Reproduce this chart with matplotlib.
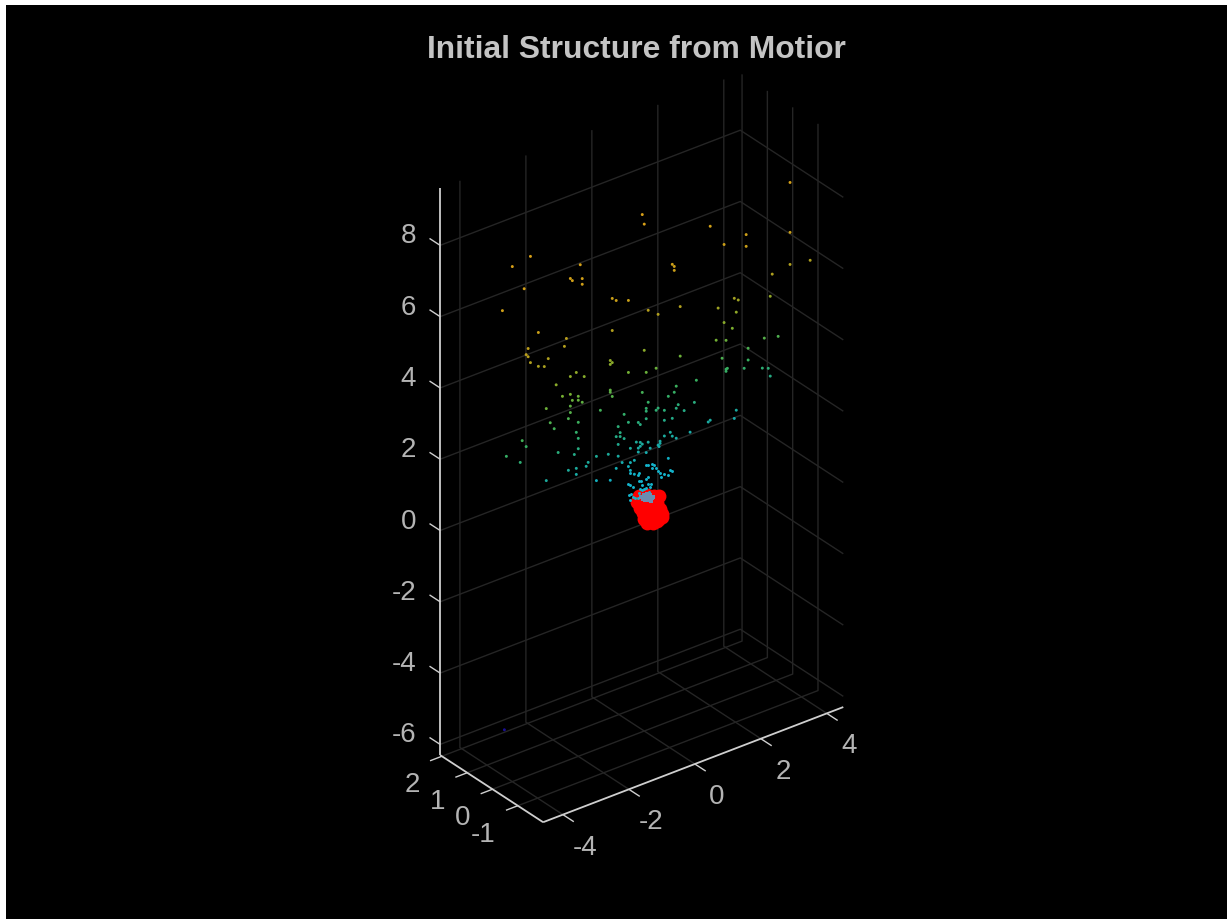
"""Initial Structure from Motion: MATLAB style point cloud redrawn in mplot3d."""

import matplotlib

matplotlib.use("Agg")

import matplotlib.pyplot as plt
import numpy as np
from matplotlib.colors import LinearSegmentedColormap
from matplotlib.patches import Rectangle
from mpl_toolkits.mplot3d import proj3d

BG = "#000000"
GRID = "#252525"
AXIS = "#cfcfcf"
TEXT = "#b4b4b4"
TITLE = "#c4c4c4"

TITLE_TEXT = "Initial Structure from Motior"

X_LIM = (-4.6, 4.5)
Y_LIM = (-2.0, 2.07)
Z_LIM = (-6.3, 9.6)

X_TICKS = [-4, -2, 0, 2, 4]
Y_TICKS = [-1, 0, 1, 2]
Z_TICKS = [-6, -4, -2, 0, 2, 4, 6, 8]

# colour against height
COLOR_Z = [-5, 0, 1, 2, 3, 4, 5, 6, 8]
COLOR_HEX = ["#1a0a90", "#0a90d0", "#10b0c8", "#1fa890", "#38b060",
             "#78b030", "#a89f20", "#c89f18", "#d8a018"]

# point cloud
cloud_x = [
    -0.06, 0.00, -3.45, -4.00, -1.94, -2.24, -2.18, -1.88, -1.88, -3.64,
    0.85, 0.91, 0.91, -4.30, -0.97, -0.85, -0.48, 0.12, 0.42, -3.21,
    -0.97, -2.36, 4.42, 2.00, 3.09, 4.42, 2.42, 3.09, 4.42, 5.03,
    3.88, 3.82, 2.73, 2.85, 1.09, 2.24, 2.79, 2.42, 2.67, 3.64,
    4.06, 2.18, 2.48, 0.00, 1.09, 3.15, 2.36, 3.15, -0.48, 0.06,
    0.36, 2.48, 2.52, 2.48, 3.03, 3.58, 3.76, 3.82, 1.58, 0.97,
    -0.06, 0.91, 0.73, 0.12, 1.03, 1.52, 0.06, 0.06, 0.42, 0.36,
    0.61, 0.97, 1.21, 2.79, 0.06, 0.61, 0.85, 2.00, 1.94, 2.73,
    -0.18, -0.12, 0.79, 1.39, 0.61, 0.85, 0.97, -0.24, -0.12, -0.06,
    0.12, -0.12, -0.18, -0.42, 0.48, 0.48, 0.42, 0.45, 0.18, -0.18,
    0.06, 0.73, -3.52, -2.42, -3.58, -3.52, -2.91, -3.45, -3.21, -3.03,
    -1.03, -0.97, -1.03, -2.06, -2.24, -1.82, -2.67, -1.03, -1.03, -2.24,
    -2.48, -2.00, -0.97, -2.18, -2.00, -1.88, -2.24, -2.97, -1.33, -2.24,
    -0.61, -2.30, -2.85, -2.00, -0.48, -0.79, -2.73, -2.06, -0.73, -0.73,
    -0.85, -2.00, -0.61, -3.70, -3.58, -0.79, -2.00, -2.61, -2.12, -1.09,
    -1.45, -0.79, -4.18, -3.76, -1.70, -1.76, -0.67, -0.42, -0.30, -0.48,
    -0.85, -2.30, -2.06, -0.42, -0.30, -2.06, -2.97, -1.45, -1.03,
    -4.24,
]
cloud_z = [
    8.21, 7.92, 8.24, 8.15, 7.47, 7.19, 7.11, 7.06, 6.90, 7.40,
    6.49, 6.41, 6.30, 7.02, 6.18, 6.08, 5.95, 5.46, 5.24, 6.02,
    5.28, 5.55, 7.52, 7.15, 6.53, 6.12, 6.49, 6.20, 5.22, 5.12,
    5.14, 4.54, 4.87, 4.78, 5.22, 4.77, 4.46, 4.30, 4.05, 3.43,
    3.33, 3.89, 3.78, 4.38, 3.83, 3.32, 3.32, 2.99, 3.93, 3.74,
    3.75, 2.97, 2.98, 2.91, 2.80, 2.61, 2.54, 2.30, 2.98, 3.03,
    3.22, 2.88, 2.83, 2.88, 2.49, 2.38, 2.73, 2.65, 2.61, 2.57,
    2.48, 2.41, 2.26, 1.71, 2.44, 2.20, 2.17, 1.71, 1.68, 1.50,
    2.42, 2.34, 1.80, 1.59, 1.76, 1.67, 1.57, 1.89, 1.84, 1.77,
    1.76, 1.73, 1.70, 1.78, 1.66, 1.60, 1.57, 1.52, 1.57, 1.59,
    1.49, 1.09, 5.68, 5.35, 5.53, 5.45, 5.18, 5.26, 5.07, 5.00,
    4.46, 4.38, 4.35, 4.49, 4.44, 4.29, 4.36, 3.63, 3.57, 3.94,
    3.97, 3.80, 3.43, 3.75, 3.69, 3.59, 3.61, 3.80, 3.17, 3.43,
    2.80, 3.28, 3.36, 3.07, 2.53, 2.52, 3.15, 2.81, 2.33, 2.22,
    2.26, 2.62, 2.12, 3.16, 2.95, 2.02, 2.33, 2.44, 2.21, 1.85,
    1.92, 1.69, 2.89, 2.57, 1.84, 1.75, 1.47, 1.38, 1.40, 1.29,
    1.37, 1.83, 1.80, 1.16, 1.01, 1.63, 1.78, 1.24, 1.10,
    -4.76,
]

# points right on top of the camera blob
near_x = [
    0.06, 0.12, 0.24, 0.30, 0.36, 0.42, 0.48, 0.24, 0.73, 0.85,
    0.79, 0.52, 0.61, -0.15, -0.18, -0.42, -0.15, 0.12, 0.06, -0.09,
    -0.48, -0.42, -0.33, -0.39, -0.45, -0.42, -0.33, -0.06, -0.12, 0.12,
    0.21, 0.18, -0.15, 0.00, 0.06, -0.06, 0.15, -0.27, -0.18,
]
near_z = [
    1.14, 1.13, 1.11, 1.06, 0.96, 0.85, 0.78, 1.00, 0.63, 0.68,
    0.75, 0.63, 0.68, 1.00, 0.95, 1.09, 0.78, 0.79, 0.76, 0.75,
    0.81, 0.76, 0.67, 0.50, 0.49, 0.34, 0.39, 0.63, 0.54, 0.60,
    0.56, 0.49, 0.44, 0.50, 0.49, 0.47, 0.36, 0.32, 0.31,
]

# camera positions, red blob
cam_x = [
    -0.15, 0.09, 0.30, -0.21, 0.03, 0.27, 0.39, -0.12, 0.12, 0.36, 0.48,
    -0.03, 0.21, 0.45, 0.55, 0.00, 0.21, 0.45, 0.55, 0.09, 0.27, 0.39, 0.45,
]
cam_z = [
    0.36, 0.30, 0.20, 0.21, 0.13, 0.04, -0.03, 0.01, -0.07, -0.16, -0.25,
    -0.18, -0.27, -0.35, -0.41, -0.36, -0.44, -0.52, -0.50, -0.50, -0.57, -0.56, 0.12,
]

# grey-blue patch in the middle of the blob
patch_x = [-0.09, 0.00, 0.09, 0.18, 0.27, -0.03, 0.06, 0.15, 0.24, 0.03, 0.12, 0.21]
patch_z = [0.31, 0.33, 0.33, 0.27, 0.18, 0.23, 0.23, 0.20, 0.14, 0.16, 0.13, 0.09]


def draw_line(ax, xs, ys, zs, color=GRID, lw=1.0, zorder=1):
    ax.plot(xs, ys, zs, color=color, lw=lw, zorder=zorder, solid_capstyle="butt")


def draw_grid(ax):
    x0, x1 = X_LIM
    y0, y1 = Y_LIM
    z0, z1 = Z_LIM
    for z in Z_TICKS:
        draw_line(ax, [x0, x1, x1], [y1, y1, y0], [z, z, z])
    for x in X_TICKS:
        draw_line(ax, [x, x, x], [y0, y1, y1], [z0, z0, z1])
    for y in Y_TICKS:
        draw_line(ax, [x0, x1, x1], [y, y, y], [z0, z0, z1])


def tick_label(ax, x, y, z, text, dx, dy, ha):
    # project by hand so the label is a plain 2D annotation with a pixel offset
    px, py, _ = proj3d.proj_transform(x, y, z, ax.get_proj())
    ax.annotate(text, xy=(px, py), xycoords="data", xytext=(dx, dy),
                textcoords="offset pixels", ha=ha, va="center", color=TEXT,
                fontsize=20, family="Liberation Sans", zorder=6, annotation_clip=False)


def draw_axes(ax):
    x0, x1 = X_LIM
    y0, y1 = Y_LIM
    z0, z1 = Z_LIM
    draw_line(ax, [x0, x1], [y0, y0], [z0, z0], AXIS, 1.3, 5)
    draw_line(ax, [x0, x0], [y0, y1], [z0, z0], AXIS, 1.3, 5)
    draw_line(ax, [x0, x0], [y1, y1], [z0, z1], AXIS, 1.3, 5)

    for x in X_TICKS:
        draw_line(ax, [x, x], [y0, y0 - 0.43], [z0, z0], AXIS, 1.0, 5)
        tick_label(ax, x, y0, z0, str(x), 22, -33, "center")
    for y in Y_TICKS:
        draw_line(ax, [x0, x0 - 0.36], [y, y], [z0, z0], AXIS, 1.0, 5)
        tick_label(ax, x0, y, z0, str(y), -22, -29, "right")
    for z in Z_TICKS:
        draw_line(ax, [x0, x0], [y1, y1 + 0.42], [z, z], AXIS, 1.0, 5)
        tick_label(ax, x0, y1, z, str(z), -24, 9, "right")


def main():
    width, height = 1227, 919
    fig = plt.figure(figsize=(width / 100, height / 100), dpi=100, facecolor="white")
    fig.add_artist(Rectangle((6 / width, 0), 1 - 6 / width, 1 - 5 / height,
                             transform=fig.transFigure, facecolor=BG, edgecolor="none",
                             zorder=-10))

    side = 800
    left = (630.9 - side / 2) / width
    bottom = 1 - (458.5 + side / 2) / height
    ax = fig.add_axes([left, bottom, side / width, side / height],
                      projection="3d", computed_zorder=False)
    ax.patch.set_alpha(0)
    ax.set_proj_type("ortho")
    ax.view_init(elev=30, azim=-127.5)
    ax.set_xlim(*X_LIM)
    ax.set_ylim(*Y_LIM)
    ax.set_zlim(*Z_LIM)
    # z squeezed a touch, the original has slight perspective
    spans = (X_LIM[1] - X_LIM[0], Y_LIM[1] - Y_LIM[0], (Z_LIM[1] - Z_LIM[0]) * 0.99)
    ax.set_box_aspect(spans, zoom=0.94)
    ax.set_axis_off()

    draw_grid(ax)

    cmap = LinearSegmentedColormap.from_list(
        "height",
        [((z - COLOR_Z[0]) / (COLOR_Z[-1] - COLOR_Z[0]), c) for z, c in zip(COLOR_Z, COLOR_HEX)],
    )

    ax.scatter(cloud_x, np.zeros(len(cloud_x)), cloud_z, c=cloud_z, cmap=cmap,
               vmin=COLOR_Z[0], vmax=COLOR_Z[-1], s=4.5, marker="o", linewidths=0,
               depthshade=False, zorder=2)
    ax.scatter(cam_x, np.zeros(len(cam_x)), cam_z, color="#ff0000", s=100, marker="o",
               linewidths=0, depthshade=False, zorder=3)
    ax.scatter(near_x, np.zeros(len(near_x)), near_z, color="#14b4cc", s=4.5, marker="o",
               linewidths=0, depthshade=False, zorder=4)
    ax.scatter(patch_x, np.zeros(len(patch_x)), patch_z, color="#6c8cb0", s=8, marker="s",
               linewidths=0, depthshade=False, zorder=4)

    draw_axes(ax)

    fig.text(636.5 / width, 1 - 50 / height, TITLE_TEXT, ha="center", va="center",
             color=TITLE, fontsize=22.9, fontweight="bold", family="Liberation Sans")

    fig.savefig("out.png", dpi=100, facecolor=fig.get_facecolor())
    plt.close(fig)


if __name__ == "__main__":
    main()
